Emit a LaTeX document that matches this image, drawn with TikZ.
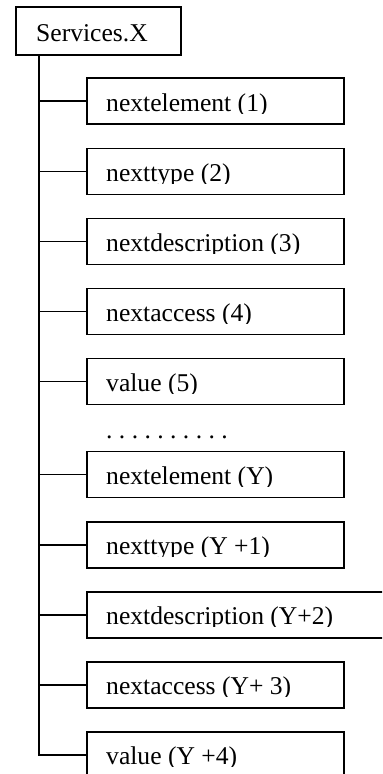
\documentclass[tikz,border=0pt]{standalone}
\usepackage{fontspec}
\setmainfont{Liberation Serif}
\begin{document}
\frenchspacing
\begin{tikzpicture}[x=1bp,y=-1bp,
  cbox/.style={draw=black, line width=1.9bp, rectangle, inner sep=0pt, minimum height=46bp, anchor=north west},
  topbox/.style={cbox, minimum width=165bp, minimum height=48bp},
  lbl/.style={inner sep=0pt, anchor=base west, font=\fontsize{25.6bp}{30bp}\selectfont},
  conn/.style={draw=black, line width=1.7bp}]
\useasboundingbox (0,0) rectangle (382,774);
\clip (0,0) rectangle (382,774);
\fill[white] (0,0) rectangle (382,774);
\newcommand\mkchild[4]{%
  \node[cbox, minimum width=#3bp] (#1) at (85.7,#2) {};
  \draw[conn] (tk |- #1.west) -- (#1.west);
  \begin{scope}
    \clip ([yshift=1bp]#1.north west) rectangle ([yshift=-35.8bp]#1.north east);
    \node[lbl] (#1t) at ([xshift=20.3bp,yshift=-34.2bp]#1.north west) {#4};
  \end{scope}}
\node[topbox] (top) at (15,6) {};
\node[lbl] (topt) at ([xshift=21bp,yshift=-35.7bp]top.north west) {Services.X};
\coordinate (tk) at ([xshift=24.3bp]top.south west);
\mkchild{b1}{77.3}{257}{nextelement (1)}
\mkchild{b2}{147.5}{257}{nexttype (2)}
\mkchild{b3}{217.5}{257}{nextdescription (3)}
\mkchild{b4}{287.5}{257}{nextaccess (4)}
\mkchild{b5}{357.5}{257}{value (5)}
\node[lbl] (dots) at (106,438.5) {. . . . . . . . . .};
\mkchild{b6}{450.5}{257}{nextelement (Y)}
\mkchild{b7}{520.7}{257}{nexttype (Y +1)}
\mkchild{b8}{590.7}{310}{nextdescription (Y+2)}
\mkchild{b9}{660.7}{257}{nextaccess (Y+ 3)}
\mkchild{b10}{730.7}{257}{value (Y +4)}
\draw[conn] (tk) |- (b10.west);
\end{tikzpicture}
\end{document}
